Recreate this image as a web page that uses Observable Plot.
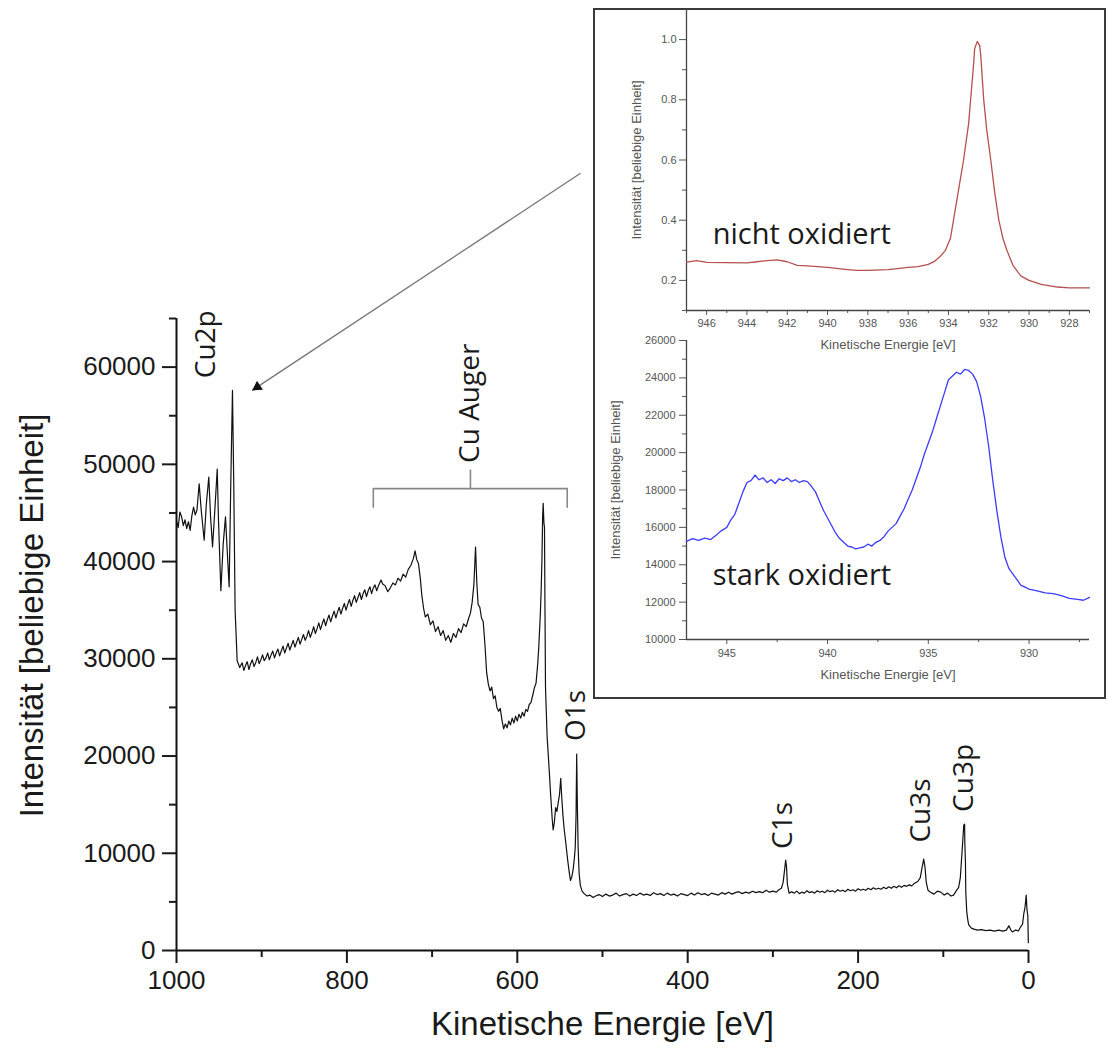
<!DOCTYPE html>
<html>
<head>
<meta charset="utf-8">
<script src="https://cdn.jsdelivr.net/npm/d3@7"></script>
<script src="https://cdn.jsdelivr.net/npm/@observablehq/plot@0.6"></script>
<style>
  html, body { margin: 0; padding: 0; background: #fff; }
  #wrap { position: relative; width: 1107px; height: 1051px; overflow: hidden; }
  #wrap svg { position: absolute; }
  #box { position: absolute; left: 593px; top: 8px; width: 509px; height: 687px; border: 2px solid #3a3a3a; background: #fff; }
</style>
</head>
<body>
<div id="wrap"><div id="box"></div></div>
<script>
// ---------- Survey spectrum (main chart): [kinetic energy eV, intensity] ----------
const surveySpectrum = [
  [1000,44200],[998,43500],[996,45100],[994,44600],[992,43700],[990,44300],[988,43400],[986,44100],[984,43200],
  [982,44700],[980,45600],[978,44800],[976,45300],[973.4,48000],[971,45300],[967.5,42200],[965,45900],[962.1,48700],
  [960,44600],[957.7,41500],[955,45300],[952.2,49500],[950.7,44200],[947.9,37000],[945.2,41800],[942.5,44600],
  [940.1,40500],[938.2,37400],[936.3,48000],[934.3,57600],[932.8,48000],[931.2,35000],[928.8,29800],[925.8,29100],
  [923,29600],[921,28800],[919,29300],[917,29700],[915,28900],[913,29500],[911,29900],[909,29200],[907,29600],
  [905,30200],[903,29500],[901,29900],[899,30400],[897,29800],[895,30100],[893,30600],[891,29900],[889,30400],
  [887,30800],[885,30100],[883,30600],[881,31000],[879,30300],[877,30800],[875,31300],[873,30600],[871,31100],
  [869,31600],[867,30900],[865,31400],[863,31900],[861,31200],[859,31700],[857,32200],[855,31500],[853,32000],
  [851,32500],[849,31900],[847,32300],[845,32900],[843,32200],[841,32700],[839,33300],[837,32600],[835,33100],
  [833,33700],[831,33000],[829,33600],[827,34100],[825,33400],[823,34000],[821,34500],[819,33800],[817,34400],
  [815,34900],[813,34200],[811,34800],[809,35300],[807,34600],[805,35200],[803,35700],[801,35000],[799,35600],
  [797,36100],[795,35400],[793,36000],[791,36500],[789,35800],[787,36300],[785,36800],[783,36100],[781,36700],
  [779,37100],[777,36400],[775,37000],[773,37400],[771,36700],[769,37300],[767,37600],[765,37000],[763,37500],
  [760,38100],[758,37700],[755,37500],[752,36900],[749,37300],[746,37800],[743,37600],[740,38300],[737,38000],
  [734,38700],[731,38400],[728,39200],[725,39600],[722,40300],[720,41100],[718,40200],[716,39800],[714,38400],
  [712,36500],[710,35200],[708,34300],[705,34600],[702,33500],[699,33900],[696,32800],[693,33300],[690,32400],
  [687,32900],[684,31900],[681,32400],[678,31700],[675,32600],[672,32200],[669,33100],[666,32700],[663,33600],
  [660,33300],[657,34200],[655,34700],[653,35800],[651,37600],[649,41500],[647.5,37800],[646,35600],[644,35300],
  [642,34200],[640,33800],[638,31500],[636,28600],[634,27400],[632,26700],[630,27100],[628,25900],[626,26200],
  [624,25000],[622,24600],[620,24900],[618,23700],[616,22800],[614,23300],[612,22900],[610,23600],[608,23200],
  [606,23900],[604,23400],[602,24100],[600,23600],[598,24300],[596,23900],[594,24500],[592,24100],[590,24800],
  [588,24600],[586,25300],[584,25500],[582,26200],[580,27000],[578,27500],[576,29500],[574.8,31200],[573,34500],
  [572,37000],[571,40500],[570.3,44500],[569.6,46000],[568.8,44000],[568.1,43500],[567.5,35000],[566.9,27100],
  [565,22000],[563,19200],[561,16200],[559,13500],[557.9,12400],[556.5,13200],[555,14700],[553.5,14300],
  [552,15200],[550.5,16000],[549,17700],[548,16000],[546.5,14000],[545,12500],[543,11000],[541,9400],[539,8000],
  [537.6,7200],[536,7600],[534.5,8300],[533,9500],[532,10600],[531,14000],[530.3,20200],[529.5,15000],
  [528.6,10600],[527.5,8000],[526,6700],[524,6100],[521,5800],[518,5600],
  [515,5700],[511,5450],[508,5600],[504,5750],[500,5550],[496,5800],[492,5600],[488,5700],[484,5900],[480,5600],
  [476,5750],[472,5850],[468,5600],[464,5800],[460,5650],[456,5900],[452,5700],[448,5800],[444,5650],[440,5950],
  [436,5750],[432,5850],[428,5650],[424,5900],[420,5700],[416,5800],[412,5600],[408,5850],[404,5750],[400,5650],
  [396,5900],[392,5700],[388,5950],[384,5750],[380,5850],[376,5650],[372,5900],[368,5800],[364,5700],[360,5950],
  [356,5800],[352,6000],[348,5800],[344,5950],[340,6050],[336,5850],[332,6000],[328,5900],[324,6100],[320,5950],
  [316,6050],[312,5950],[308,6200],[304,6000],[300,6100],[296,6000],[293,6250],[290,6400],
  [288,7000],[286,8500],[285,9300],[284,8600],[283,6800],[281,5900],[278,6050],[275,5900],[272,6100],[269,5850],
  [266,6000],[263,5900],[260,6150],[257,5950],[254,6050],[251,5900],[248,6150],[245,6000],[242,6100],[239,5950],
  [236,6200],[233,6050],[230,6150],[227,6000],[224,6250],[221,6100],[218,6200],[215,6050],[212,6300],[209,6150],
  [206,6250],[203,6100],[200,6350],[197,6200],[194,6300],[191,6200],[188,6400],[185,6250],[182,6450],[179,6300],
  [176,6400],[173,6300],[170,6500],[167,6350],[164,6550],[161,6400],[158,6600],[155,6450],[152,6650],[149,6500],
  [146,6700],[143,6600],[140,6750],[137,6650],[134,6900],[130,7100],[127,7500],[125,8500],[123,9400],[121.5,8600],
  [120,7000],[118,6200],[115,6000],[111,5800],[107,6100],[103,6000],[99,5700],[95,5900],[91,5600],[88,5700],
  [85,6100],[82,6500],[80,7500],[78.5,9500],[77,11500],[76,12900],[75,13000],[74.7,11000],[74,9000],[73.6,6000],
  [72.5,4000],[71,3000],[70,2600],[67,2300],[64,2200],[60,2100],[55,2150],[50,2050],[45,2100],[40,2000],[35,2100],
  [30,2000],[26,2100],[23,2550],[21,2150],[19,1900],[15,2100],[12,2000],[9.5,2400],[7,2700],[5.5,3800],[4,4500],
  [2.7,5700],[1.8,4200],[0.8,3600],[0.2,800]
];

// Main axes ticks
const mainXMajor = [1000, 800, 600, 400, 200, 0];
const mainXMinor = [900, 700, 500, 300, 100];
const mainYMajor = [0, 10000, 20000, 30000, 40000, 50000, 60000];
const mainYMinor = [5000, 15000, 25000, 35000, 45000, 55000, 65000];

// Peak labels (text, energy, intensity at label centre)
const peakNames = ["Cu2p", "Cu Auger", "O1s", "C1s", "Cu3s", "Cu3p"];
const peakEnergy = [964.8, 655, 530.5, 287.6, 125.9, 75.4];
const peakIntensity = [62350, 56280, 24180, 12860, 14400, 17750];

// Cu Auger bracket (energy, intensity)
const bracketPath = [[769, 45600], [769, 47500], [541.4, 47500], [541.4, 45600]];
const bracketStem = [[655, 47500], [655, 49380]];

// Arrow from inset to Cu2p peak
const arrowFrom = [525.8, 79940];
const arrowTo = [911.2, 57610];

// ---------- Inset 1: nicht oxidiert ----------
const redEnergy = [947, 946.5, 946, 945, 944, 943.5, 943, 942.5, 942, 941.5, 941, 940, 939, 938.5, 938, 937, 936,
  935.5, 935, 934.7, 934.4, 934.15, 933.9, 933.75, 933.5, 933.25, 933.0, 932.9, 932.75, 932.7, 932.57, 932.45, 932.4,
  932.25, 932.1, 931.9, 931.7, 931.5, 931.3, 931.1, 930.8, 930.4, 930, 929.4, 928.6, 928, 927];
const redIntensity = [0.261, 0.266, 0.260, 0.259, 0.258, 0.262, 0.266, 0.268, 0.262, 0.250, 0.248, 0.243, 0.236,
  0.233, 0.233, 0.236, 0.243, 0.246, 0.253, 0.263, 0.28, 0.30, 0.34, 0.40, 0.50, 0.60, 0.72, 0.80, 0.92, 0.97, 0.994,
  0.98, 0.95, 0.80, 0.70, 0.60, 0.49, 0.40, 0.34, 0.30, 0.25, 0.214, 0.20, 0.187, 0.178, 0.175, 0.175];
const redYMajor = [0.2, 0.4, 0.6, 0.8, 1.0];
const redYMinor = [0.1, 0.3, 0.5, 0.7, 0.9];
const redXMajor = [946, 944, 942, 940, 938, 936, 934, 932, 930, 928];
const redXMinor = [947, 945, 943, 941, 939, 937, 935, 933, 931, 929, 927];

// ---------- Inset 2: stark oxidiert ----------
const blueSpectrum = [
  [947,15250],[946.7,15400],[946.4,15300],[946.1,15420],[945.8,15350],[945.5,15600],[945.3,15800],[945,16000],
  [944.8,16400],[944.6,16700],[944.4,17300],[944.2,17900],[944.0,18400],[943.8,18500],[943.6,18800],[943.4,18550],
  [943.2,18650],[943.0,18400],[942.8,18550],[942.6,18350],[942.4,18600],[942.2,18500],[942.0,18650],[941.8,18450],
  [941.6,18550],[941.4,18400],[941.2,18500],[941.0,18450],[940.8,18200],[940.6,17900],[940.4,17400],[940.2,16900],
  [940,16500],[939.8,16100],[939.6,15700],[939.4,15400],[939.2,15200],[939,15000],[938.8,14950],[938.6,14850],
  [938.4,14900],[938.2,14950],[938,15100],[937.8,15000],[937.6,15200],[937.4,15300],[937.2,15500],[937,15800],
  [936.8,16000],[936.6,16200],[936.4,16600],[936.2,17000],[936,17500],[935.8,18000],[935.6,18600],[935.4,19200],
  [935.2,19900],[935,20500],[934.8,21100],[934.6,21800],[934.4,22500],[934.2,23200],[934.0,23900],[933.8,24100],
  [933.6,24300],[933.4,24200],[933.2,24450],[933.0,24400],[932.8,24200],[932.6,23800],[932.4,23000],[932.2,21800],
  [932.0,20300],[931.8,18500],[931.6,16900],[931.4,15500],[931.2,14400],[931.0,13800],[930.8,13500],[930.6,13200],
  [930.4,12900],[930.2,12800],[930,12700],[929.6,12600],[929.2,12500],[928.8,12450],[928.4,12350],[928,12200],
  [927.6,12150],[927.3,12100],[927,12250]
];
const blueYMajor = [10000, 12000, 14000, 16000, 18000, 20000, 22000, 24000, 26000];
const blueYMinor = [11000, 13000, 15000, 17000, 19000, 21000, 23000, 25000];
const blueXMajor = [945, 940, 935, 930];
const blueXMinor = [942.5, 937.5, 932.5, 927.5];

const xTitle = "Kinetische Energie [eV]";
const yTitle = "Intensität [beliebige Einheit]";

const wrap = document.getElementById("wrap");
const sans = "'Liberation Sans', Arial, sans-serif";
const labelFont = "'Open Sans', 'Noto Sans', sans-serif";

// ---------- Main chart ----------
const main = Plot.plot({
  width: 1107, height: 1051,
  marginLeft: 176, marginRight: 79, marginTop: 318, marginBottom: 101,
  x: {domain: [1000, 0]},
  y: {domain: [0, 65000]},
  style: {fontFamily: sans, fontSize: "26px", color: "#1a1a1a", background: "transparent", overflow: "visible"},
  marks: [
    Plot.axisX(mainXMajor, {tickSize: 13, tickPadding: 7, strokeWidth: 2, label: null, tickFormat: d => String(d)}),
    Plot.axisX(mainXMinor, {tickSize: 7, strokeWidth: 2, label: null, tickFormat: () => ""}),
    Plot.axisY(mainYMajor, {tickSize: 14, tickPadding: 7, strokeWidth: 2, label: null, tickFormat: d => String(d)}),
    Plot.axisY(mainYMinor, {tickSize: 7, strokeWidth: 2, label: null, tickFormat: () => ""}),
    Plot.ruleX([1000], {stroke: "#111", strokeWidth: 2}),
    Plot.ruleY([0], {stroke: "#111", strokeWidth: 2}),
    Plot.line(surveySpectrum, {x: d => d[0], y: d => d[1], stroke: "#111", strokeWidth: 1.2}),
    Plot.line(bracketPath, {x: d => d[0], y: d => d[1], stroke: "#888", strokeWidth: 1.6}),
    Plot.line(bracketStem, {x: d => d[0], y: d => d[1], stroke: "#888", strokeWidth: 1.6}),
    Plot.link([0], {x1: () => arrowFrom[0], y1: () => arrowFrom[1], x2: () => arrowTo[0], y2: () => arrowTo[1],
      stroke: "#777", strokeWidth: 1.3}),
    Plot.dot([0], {x: () => arrowTo[0], y: () => arrowTo[1], symbol: "triangle", r: 4, fill: "#111", stroke: "none",
      rotate: 236.5, dx: 5.2, dy: -3.4}),
    Plot.text(peakNames, {x: (d, i) => peakEnergy[i], y: (d, i) => peakIntensity[i], text: d => d, rotate: -90,
      fontFamily: labelFont, fontSize: 28, fill: "#1a1a1a"}),
    Plot.text([yTitle], {frameAnchor: "left", textAnchor: "middle", dx: -144, dy: -19, rotate: -90, fontSize: 33, fill: "#1a1a1a"}),
    Plot.text([xTitle], {frameAnchor: "bottom", dy: 84, fontSize: 33, fill: "#1a1a1a"})
  ]
});
main.style.left = "0px"; main.style.top = "0px";
wrap.appendChild(main);

// ---------- Inset 1 ----------
const insetStyle = {fontFamily: sans, fontSize: "11px", color: "#555", background: "transparent", overflow: "visible"};
const inset1 = Plot.plot({
  width: 511, height: 355, marginLeft: 92, marginRight: 16, marginTop: 0, marginBottom: 54,
  x: {domain: [947, 927]},
  y: {domain: [0.1, 1.1]},
  style: insetStyle,
  marks: [
    Plot.axisY(redYMajor, {tickSize: 7, tickPadding: 3, label: null, tickFormat: d3.format(".1f")}),
    Plot.axisY(redYMinor, {tickSize: 4, label: null, tickFormat: () => ""}),
    Plot.axisX(redXMajor, {tickSize: 5, tickPadding: 4, label: null, tickFormat: d => String(d)}),
    Plot.axisX(redXMinor, {tickSize: 3, label: null, tickFormat: () => ""}),
    Plot.ruleX([947], {stroke: "#444", strokeWidth: 1.3}),
    Plot.ruleY([0.1], {stroke: "#444", strokeWidth: 1.3}),
    Plot.line(redEnergy, {x: d => d, y: (d, i) => redIntensity[i], stroke: "#b5504e", strokeWidth: 1.3}),
    Plot.text([xTitle], {frameAnchor: "bottom", dy: 38, fontSize: 13, fill: "#555"}),
    Plot.text([yTitle], {frameAnchor: "left", textAnchor: "middle", dx: -50, rotate: -90, fontSize: 13, fill: "#555"}),
    Plot.text(["nicht oxidiert"], {x: 945.7, y: 0.351, textAnchor: "start", fontFamily: labelFont, fontSize: 29, fill: "#1a1a1a"})
  ]
});
inset1.style.left = "594px"; inset1.style.top = "9px";
wrap.appendChild(inset1);

// ---------- Inset 2 ----------
const inset2 = Plot.plot({
  width: 511, height: 367, marginLeft: 92, marginRight: 16, marginTop: 10, marginBottom: 58,
  x: {domain: [947, 927]},
  y: {domain: [10000, 26000]},
  style: insetStyle,
  marks: [
    Plot.axisY(blueYMajor, {tickSize: 7, tickPadding: 4, label: null, tickFormat: d => String(d)}),
    Plot.axisY(blueYMinor, {tickSize: 4, label: null, tickFormat: () => ""}),
    Plot.axisX(blueXMajor, {tickSize: 5, tickPadding: 5, label: null, tickFormat: d => String(d)}),
    Plot.axisX(blueXMinor, {tickSize: 3, label: null, tickFormat: () => ""}),
    Plot.ruleX([947], {stroke: "#444", strokeWidth: 1.3}),
    Plot.ruleY([10000], {stroke: "#444", strokeWidth: 1.3}),
    Plot.line(blueSpectrum, {x: d => d[0], y: d => d[1], stroke: "#3c3cff", strokeWidth: 1.3}),
    Plot.text([xTitle], {frameAnchor: "bottom", dy: 39, fontSize: 13, fill: "#555"}),
    Plot.text([yTitle], {frameAnchor: "left", textAnchor: "middle", dx: -71, dy: -10, rotate: -90, fontSize: 13, fill: "#555"}),
    Plot.text(["stark oxidiert"], {x: 945.7, y: 13400, textAnchor: "start", fontFamily: labelFont, fontSize: 29, fill: "#1a1a1a"})
  ]
});
inset2.style.left = "594px"; inset2.style.top = "330px";
wrap.appendChild(inset2);
</script>
</body>
</html>
